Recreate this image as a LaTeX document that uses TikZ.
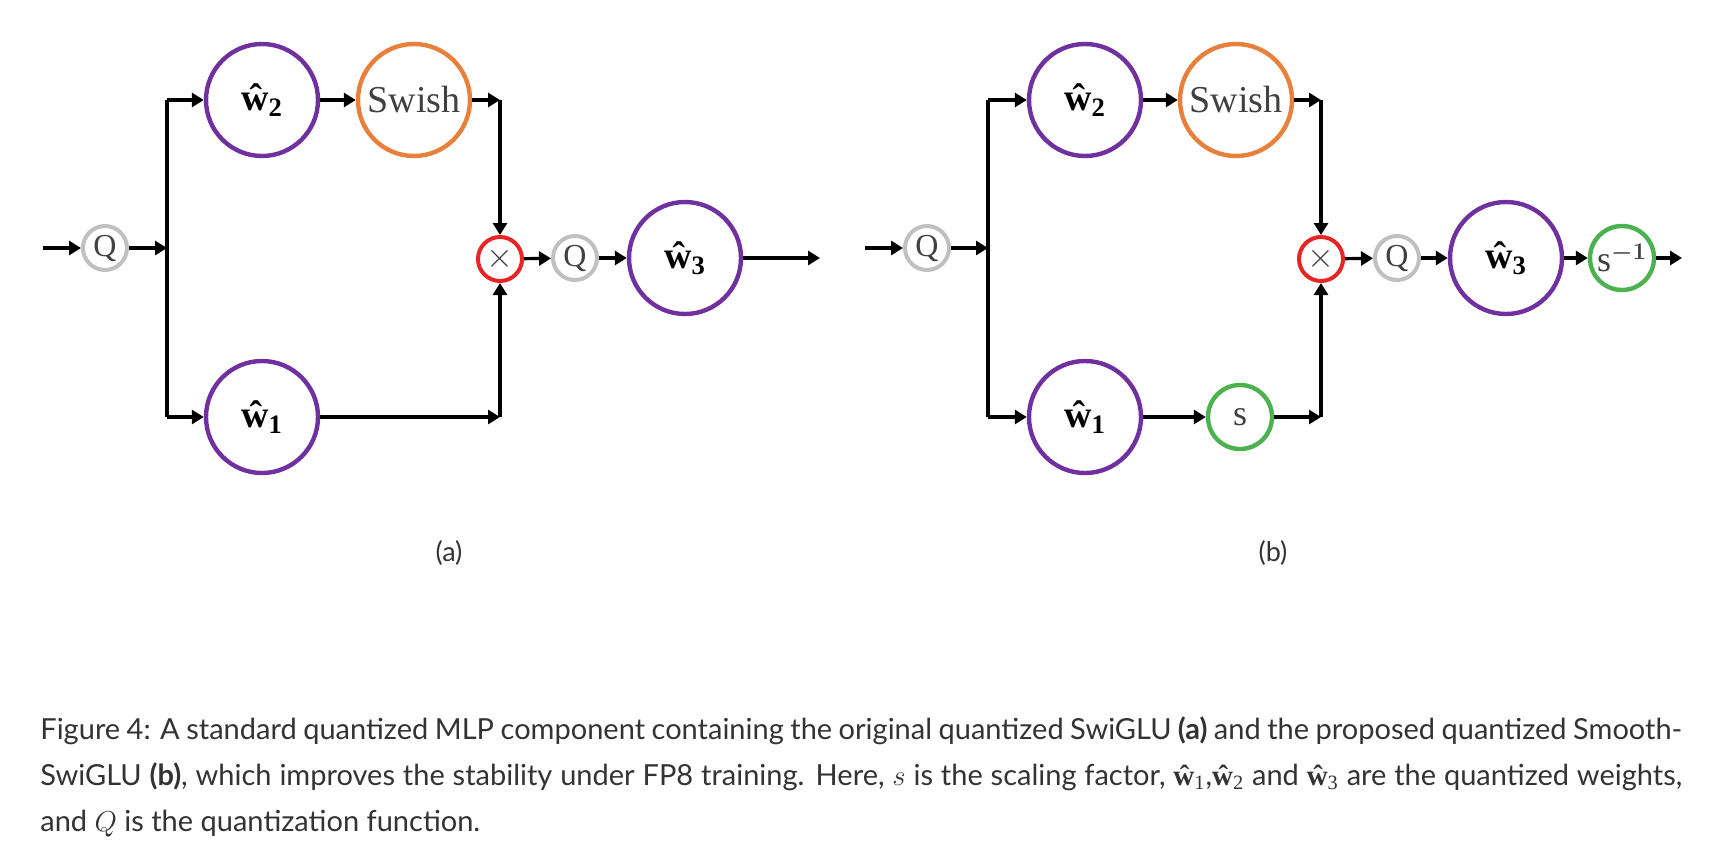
\documentclass[tikz,border=0pt]{standalone}
\usepackage{amsmath}
\usepackage{bm}
\usepackage{fontspec}
\usetikzlibrary{arrows.meta}
\newfontfamily\capfont{Lato}
\newfontfamily\nodefont{Liberation Serif}

\definecolor{wpurple}{RGB}{112,48,160}
\definecolor{sorange}{RGB}{232,128,60}
\definecolor{mred}{RGB}{232,36,36}
\definecolor{sgreen}{RGB}{76,178,80}
\definecolor{qgrey}{RGB}{192,192,192}
\definecolor{captext}{RGB}{51,51,51}
\definecolor{nodetext}{RGB}{64,64,64}

\tikzset{
  wnode/.style={circle,draw=wpurple,line width=2.2pt,minimum size=56pt,inner sep=0pt,
    font=\nodefont\bfseries\fontsize{19}{22}\selectfont},
  actnode/.style={wnode,draw=sorange,text=nodetext,font=\nodefont\fontsize{19}{22}\selectfont},
  qnode/.style={circle,draw=qgrey,line width=2pt,minimum size=22pt,inner sep=0pt,
    text=nodetext,font=\nodefont\fontsize{16}{18}\selectfont},
  mulnode/.style={qnode,draw=mred},
  snode/.style={circle,draw=sgreen,line width=2.2pt,minimum size=32pt,inner sep=0pt,
    text=nodetext,font=\nodefont\fontsize{18}{20}\selectfont},
  ln/.style={line width=1.6pt},
  arr/.style={ln,-{Triangle[length=6pt,width=7pt]}},
  sublabel/.style={text=captext,font=\capfont\fontsize{13.5}{16}\selectfont}
}
\newcommand{\qw}[1]{ŵ\textsubscript{#1}}
\newcommand{\capqw}[1]{{\nodefont\bfseries ŵ}{\nodefont\textsubscript{#1}}}

\begin{document}
\begin{tikzpicture}[x=0.5pt,y=-0.5pt]
\useasboundingbox (0,0) rectangle (1728,862);

% (a) original SwiGLU
\coordinate (inA) at (43,248);
\node[qnode] (qA) at (105,248) {Q};
\coordinate (brA) at (167,248);
\coordinate (brAt) at (167,100);
\coordinate (brAb) at (167,417);
\node[wnode] (w2A) at (262,100) {\qw{2}};
\node[actnode] (swA) at (414,100) {Swish};
\node[wnode] (w1A) at (262,417) {\qw{1}};
\coordinate (cAt) at (500,100);
\coordinate (cAb) at (500,417);
\node[mulnode] (mulA) at (500,259) {$\times$};
\node[qnode] (q2A) at (575,258) {Q};
\node[wnode] (w3A) at (685,258) {\qw{3}};
\coordinate (outA) at (820,258);

\draw[arr] (inA) -- (qA);
\draw[arr] (qA) -- (brA);
\draw[ln] (brAt) -- (brAb);
\draw[arr] (brAt) -- (w2A);
\draw[arr] (brAb) -- (w1A);
\draw[arr] (w2A) -- (swA);
\draw[arr] (swA) -- (cAt);
\draw[arr] (cAt) -- (mulA);
\draw[arr] (w1A) -- (cAb);
\draw[arr] (cAb) -- (mulA);
\draw[arr] (mulA) -- (q2A);
\draw[arr] (q2A) -- (w3A);
\draw[arr] (w3A) -- (outA);

\node[sublabel] (labA) at (449,553) {(a)};

% (b) Smooth-SwiGLU
\coordinate (inB) at (865,248);
\node[qnode] (qB) at (927,248) {Q};
\coordinate (brB) at (988,248);
\coordinate (brBt) at (988,100);
\coordinate (brBb) at (988,417);
\node[wnode] (w2B) at (1085,100) {\qw{2}};
\node[actnode] (swB) at (1236,100) {Swish};
\node[wnode] (w1B) at (1085,417) {\qw{1}};
\node[snode] (sB) at (1240,417) {s};
\coordinate (cBt) at (1321,100);
\coordinate (cBb) at (1321,417);
\node[mulnode] (mulB) at (1321,259) {$\times$};
\node[qnode] (q2B) at (1397,258) {Q};
\node[wnode] (w3B) at (1506,258) {\qw{3}};
\node[snode] (sinvB) at (1622,258) {s$^{\bm{-1}}$};
\coordinate (outB) at (1682,258);

\draw[arr] (inB) -- (qB);
\draw[arr] (qB) -- (brB);
\draw[ln] (brBt) -- (brBb);
\draw[arr] (brBt) -- (w2B);
\draw[arr] (brBb) -- (w1B);
\draw[arr] (w2B) -- (swB);
\draw[arr] (swB) -- (cBt);
\draw[arr] (cBt) -- (mulB);
\draw[arr] (w1B) -- (sB);
\draw[arr] (sB) -- (cBb);
\draw[arr] (cBb) -- (mulB);
\draw[arr] (mulB) -- (q2B);
\draw[arr] (q2B) -- (w3B);
\draw[arr] (w3B) -- (sinvB);
\draw[arr] (sinvB) -- (outB);

\node[sublabel] (labB) at (1273,553) {(b)};

% caption
\node[anchor=north west,inner sep=0pt,text width=821pt,align=justify,text=captext,
  font=\capfont\fontsize{14.5}{23}\selectfont] (cap) at (40,716)
  {Figure 4: A standard quantized MLP component containing the original quantized SwiGLU \textbf{(a)} and the proposed quantized Smooth-\linebreak
   SwiGLU \textbf{(b)}, which improves the stability under FP8 training. Here, $s$ is the scaling factor, \capqw{1},\capqw{2} and \capqw{3} are the quantized weights,\linebreak
   and $Q$ is the quantization function.};
\end{tikzpicture}
\end{document}
